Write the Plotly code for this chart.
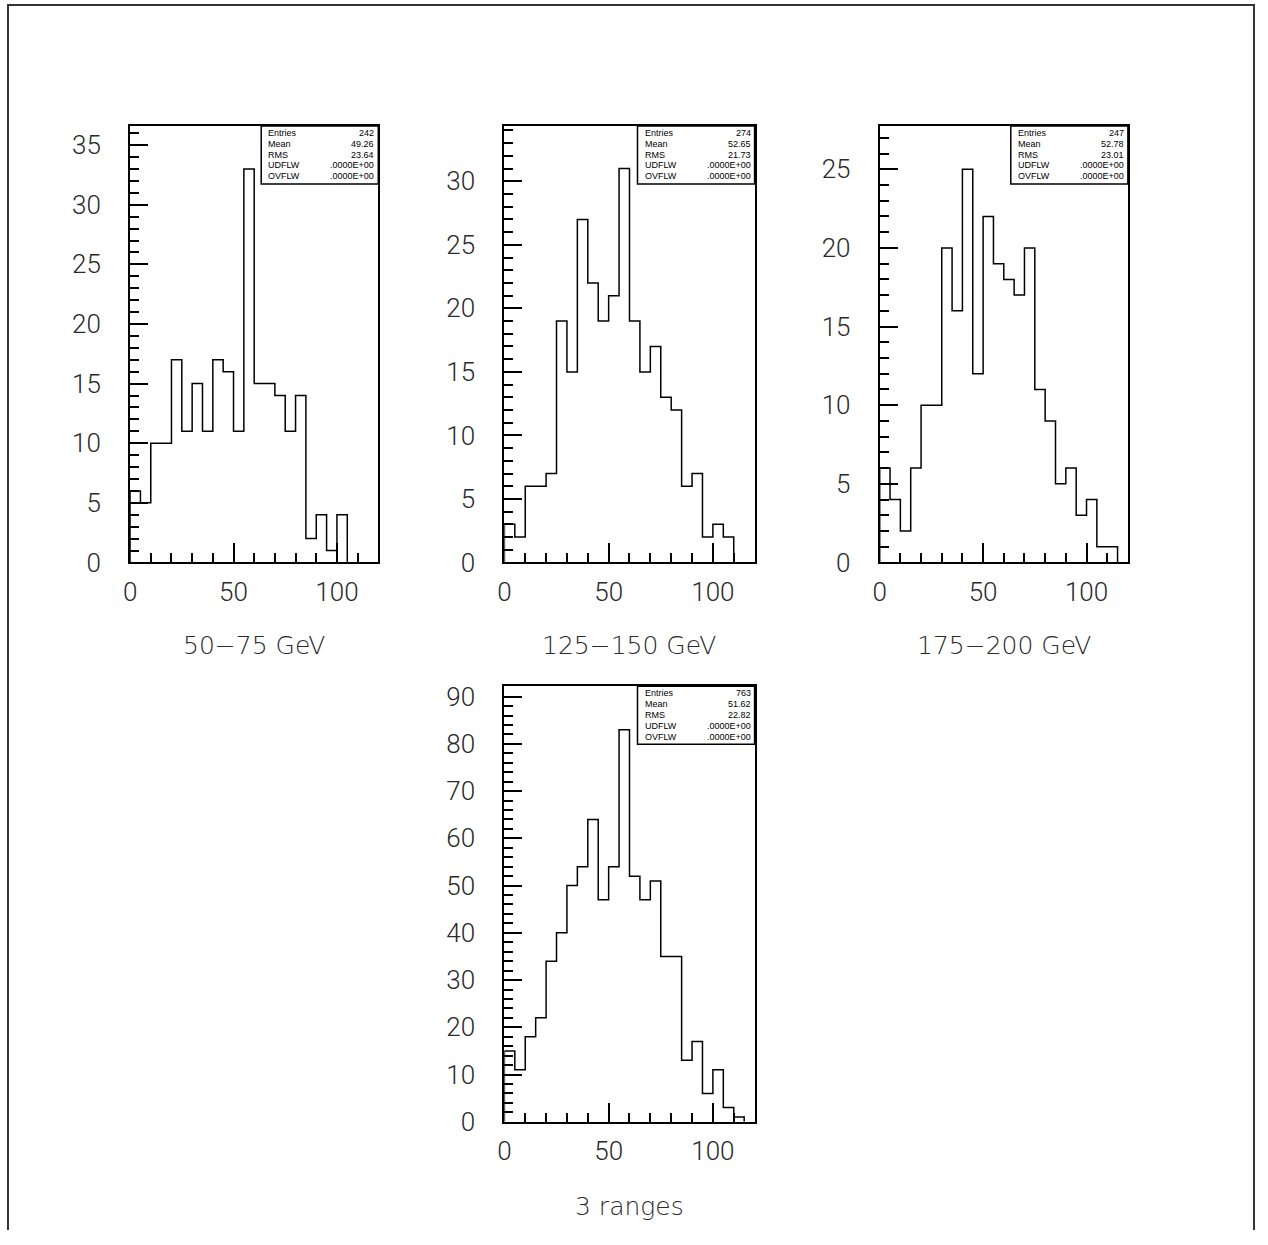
import plotly.graph_objects as go

# ---- histogram contents (bin width 5, starting at 0) ----
BIN_WIDTH = 5
counts_50_75 = [6, 5, 10, 10, 17, 11, 15, 11, 17, 16, 11, 33, 15, 15, 14, 11, 14, 2, 4, 1, 4]
counts_125_150 = [3, 2, 6, 6, 7, 19, 15, 27, 22, 19, 21, 31, 19, 15, 17, 13, 12, 6, 7, 2, 3, 2]
counts_175_200 = [6, 4, 2, 6, 10, 10, 20, 16, 25, 12, 22, 19, 18, 17, 20, 11, 9, 5, 6, 3, 4, 1, 1]
counts_3_ranges = [15, 11, 18, 22, 34, 40, 50, 54, 64, 47, 54, 83, 52, 47, 51, 35, 35, 13, 17, 6, 11, 3, 1]

titles = ["50\u221275 GeV", "125\u2212150 GeV", "175\u2212200 GeV", "3 ranges"]

stat_labels = ["Entries", "Mean", "RMS", "UDFLW", "OVFLW"]
stat_values = [
    ["242", "49.26", "23.64", ".0000E+00", ".0000E+00"],
    ["274", "52.65", "21.73", ".0000E+00", ".0000E+00"],
    ["247", "52.78", "23.01", ".0000E+00", ".0000E+00"],
    ["763", "51.62", "22.82", ".0000E+00", ".0000E+00"],
]

# ---- figure size and where its drawing area lands on the page ----
W, H = 1268, 1245
AREA_X0, AREA_W = 8.0, 1260.0
AREA_Y0, AREA_H = 2.8, 1227.6


def fx(p):
    """page x pixel -> paper fraction"""
    return (p - AREA_X0) / AREA_W


def fy(p):
    """page y pixel -> paper fraction"""
    return 1 - (p - AREA_Y0) / AREA_H


# frame boxes on the page: (left, top, right, bottom)
boxes = [
    (131, 125, 379, 562),
    (505, 125, 755, 562),
    (880, 125, 1128, 562),
    (505, 686, 755, 1122),
]
y_max = [36.6, 34.35, 27.75, 92.2]
y_major = [5, 5, 5, 10]
y_minor = [1, 1, 1, 2]
title_y = [645, 645, 645, 1207]

all_counts = [counts_50_75, counts_125_150, counts_175_200, counts_3_ranges]

TICK_FONT = dict(family="Roboto", size=26, color="#2a2a2a", weight=300)
STAT_FONT = dict(family="Liberation Sans", size=9, color="black")
TITLE_FONT = dict(family="DejaVu Sans", size=25, color="#2a2a2a", weight=200)

fig = go.Figure()
layout = dict(
    width=W,
    height=H,
    autosize=False,
    margin=dict(l=0, r=0, t=0, b=0),
    paper_bgcolor="white",
    plot_bgcolor="white",
    showlegend=False,
)
shapes = []
annotations = []

for i, counts in enumerate(all_counts):
    n = i + 1
    xa = "x" if n == 1 else f"x{n}"
    ya = "y" if n == 1 else f"y{n}"
    xkey = "xaxis" if n == 1 else f"xaxis{n}"
    ykey = "yaxis" if n == 1 else f"yaxis{n}"
    l, t, r, b = boxes[i]

    # step outline of the histogram
    edges = [k * BIN_WIDTH for k in range(len(counts) + 1)]
    xs = [0] + edges
    ys = [0] + counts + [0]
    fig.add_trace(go.Scatter(
        x=xs, y=ys, mode="lines", line=dict(color="black", width=1.5, shape="hv"),
        xaxis=xa, yaxis=ya, hoverinfo="skip", cliponaxis=False,
    ))

    layout[xkey] = dict(
        domain=[fx(l), fx(r)], anchor=ya, range=[0, 120],
        showline=True, mirror=True, linecolor="black", linewidth=2,
        showgrid=False, zeroline=False,
        ticks="inside", ticklen=19, tickwidth=1.5, tickcolor="black",
        tick0=0, dtick=50, tickfont=TICK_FONT, ticklabelstandoff=5,
        minor=dict(ticks="inside", ticklen=9, tickwidth=1.5, tickcolor="black",
                   tick0=0, dtick=10, showgrid=False),
    )
    layout[ykey] = dict(
        domain=[fy(b), fy(t)], anchor=xa, range=[0, y_max[i]],
        showline=True, mirror=True, linecolor="black", linewidth=2,
        showgrid=False, zeroline=False,
        ticks="inside", ticklen=18, tickwidth=1.5, tickcolor="black",
        tick0=0, dtick=y_major[i], tickfont=TICK_FONT, ticklabelstandoff=22,
        minor=dict(ticks="inside", ticklen=9, tickwidth=1.5, tickcolor="black",
                   tick0=0, dtick=y_minor[i], showgrid=False),
    )

    # statistics box in the upper-right corner
    bw, bh = 117, 58
    shapes.append(dict(
        type="rect", xref="paper", yref="paper",
        x0=fx(r - bw), x1=fx(r), y0=fy(t + bh), y1=fy(t),
        line=dict(color="black", width=1.5), fillcolor="white", layer="above",
    ))
    for k, (lab, val) in enumerate(zip(stat_labels, stat_values[i])):
        yy = fy(t + 6.5 + 11 * k)
        annotations.append(dict(
            x=fx(r - bw + 5), y=yy, xref="paper", yref="paper", text=lab,
            showarrow=False, xanchor="left", yanchor="middle", font=STAT_FONT,
        ))
        annotations.append(dict(
            x=fx(r - 2), y=yy, xref="paper", yref="paper", text=val,
            showarrow=False, xanchor="right", yanchor="middle", font=STAT_FONT,
        ))

    # caption below each panel
    annotations.append(dict(
        x=fx((l + r) / 2), y=fy(title_y[i]), xref="paper", yref="paper",
        text=titles[i], showarrow=False, xanchor="center", yanchor="middle",
        font=TITLE_FONT,
    ))

# page frame: left, top and right edges (the bottom edge lies off the page)
FRAME = dict(color="#333333", width=2)
left_x, top_y, right_x = 1 / W, 1 - 1 / H, fx(1254)
for x0, y0, x1, y1 in [(left_x, 0, left_x, 1), (left_x, top_y, right_x, top_y),
                       (right_x, 0, right_x, 1)]:
    shapes.append(dict(
        type="line", xref="paper", yref="paper",
        x0=x0, y0=y0, x1=x1, y1=y1, line=FRAME, layer="above",
    ))

layout["shapes"] = shapes
layout["annotations"] = annotations
fig.update_layout(**layout)
fig.write_html("out.html")
